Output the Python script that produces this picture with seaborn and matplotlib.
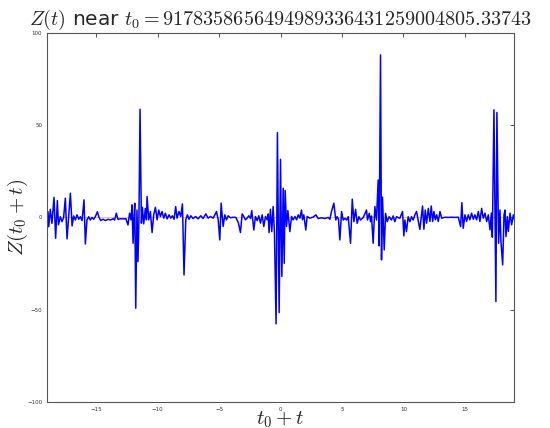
import matplotlib
matplotlib.use("Agg")
import matplotlib.pyplot as plt
import seaborn as sns
import pandas as pd

# values (t offset, Z value)
t_vals = [
    -19.05, -18.92, -18.86, -18.73, -18.6, -18.43, -18.3, -18.16, -18.07, -17.92,
    -17.78, -17.65, -17.51, -17.37, -17.24, -17.1, -16.96, -16.83, -16.69, -16.56,
    -16.42, -16.29, -16.15, -15.99, -15.88, -15.75, -15.61, -15.48, -15.34, -15.2,
    -15.04, -14.9, -14.77, -14.63, -14.44, -14.25, -14.04, -13.82, -13.63, -13.5,
    -13.36, -13.23, -13.01, -12.8, -12.58, -12.41, -12.28, -12.17, -12.08, -12.0,
    -11.92, -11.86, -11.78, -11.68, -11.6, -11.52, -11.43, -11.32, -11.24, -11.13,
    -11.0, -10.91, -10.86, -10.72, -10.59, -10.45, -10.32, -10.18, -10.04, -9.91,
    -9.77, -9.64, -9.5, -9.37, -9.23, -9.07, -8.93, -8.8, -8.66, -8.53,
    -8.42, -8.26, -8.12, -7.98, -7.85, -7.71, -7.58, -7.44, -7.3, -7.11,
    -6.9, -6.71, -6.49, -6.3, -6.08, -5.89, -5.7, -5.48, -5.21, -5.07,
    -4.94, -4.83, -4.67, -4.53, -4.4, -4.26, -4.07, -3.85, -3.63, -3.42,
    -3.26, -3.12, -2.99, -2.85, -2.72, -2.58, -2.44, -2.34, -2.17, -2.04,
    -1.9, -1.77, -1.63, -1.49, -1.36, -1.22, -1.09, -1.0, -0.93, -0.82,
    -0.71, -0.6, -0.49, -0.36, -0.25, -0.11, 0.0, 0.11, 0.22, 0.3,
    0.38, 0.49, 0.6, 0.76, 0.9, 1.03, 1.17, 1.31, 1.44, 1.58,
    1.71, 1.79, 1.9, 2.06, 2.17, 2.39, 2.66, 2.88, 3.07, 3.34,
    3.61, 3.88, 4.02, 4.15, 4.34, 4.5, 4.61, 4.72, 4.83, 4.97,
    5.1, 5.24, 5.38, 5.51, 5.7, 5.84, 5.97, 6.11, 6.24, 6.38,
    6.51, 6.73, 7.0, 7.08, 7.22, 7.33, 7.41, 7.54, 7.68, 7.81,
    7.95, 8.03, 8.14, 8.22, 8.3, 8.44, 8.55, 8.68, 8.84, 9.03,
    9.17, 9.3, 9.44, 9.71, 9.93, 10.04, 10.12, 10.25, 10.39, 10.53,
    10.66, 10.8, 10.93, 11.07, 11.2, 11.34, 11.56, 11.67, 11.78, 11.89,
    12.03, 12.16, 12.27, 12.38, 12.49, 12.6, 12.71, 12.84, 12.98, 13.12,
    13.39, 13.66, 13.93, 14.2, 14.47, 14.66, 14.76, 14.87, 15.01, 15.14,
    15.28, 15.41, 15.55, 15.69, 15.82, 15.96, 16.1, 16.23, 16.37, 16.5,
    16.64, 16.78, 16.91, 17.05, 17.16, 17.24, 17.37, 17.53, 17.61, 17.75,
    17.86, 17.94, 18.08, 18.19, 18.27, 18.35, 18.46, 18.54, 18.68, 18.81,
    18.95, 19.08,
]
z_vals = [
    -1.4, 3.1, -5.0, 4.4, -3.2, 10.9, -11.3, 9.1, -4.0, 0.4,
    -2.3, 0.0, 10.4, -11.6, 0.4, 13.1, -4.6, 0.8, -1.4, 1.4,
    -1.0, 0.4, -1.7, 9.5, -14.4, -1.4, 0.4, -1.4, 0.0, -1.0,
    0.8, 3.1, 0.0, -1.7, -1.0, -1.7, -1.0, -1.4, -0.7, -1.4,
    2.3, -1.0, -0.7, -0.8, -0.7, -4.1, 2.3, -1.3, 6.8, -14.0,
    0.5, 7.7, -49.2, 4.0, -24.0, -1.3, 58.6, -3.1, 5.5, -3.5,
    4.9, -1.3, 11.3, -1.3, 3.2, -8.2, 1.4, 5.5, -1.3, 4.0,
    0.5, 3.2, -0.4, 2.3, -0.8, 1.4, -0.4, 0.9, -1.0, 5.9,
    -0.4, 3.2, 0.5, 7.3, -31.2, -1.3, 1.4, -1.0, 0.9, -0.6,
    0.5, -0.8, 0.9, -0.6, 1.9, -0.4, 0.5, -0.4, 3.2, -1.3,
    -12.2, 7.7, -4.9, 1.4, -1.3, 0.9, -0.2, 0.1, 0.0, -3.1,
    -8.2, 1.9, 0.5, -1.3, -0.4, 0.9, -0.6, 3.7, -6.8, 0.5,
    -1.7, 0.9, -3.1, 1.4, -4.9, 0.5, -1.3, 1.9, -8.2, 4.4,
    -7.7, 5.9, -8.6, -57.7, 46.0, -51.6, 31.5, -32.0, 15.8, -24.9,
    14.6, -4.9, 3.7, -7.7, 0.5, -1.3, 0.5, -1.3, 1.4, -0.4,
    4.0, -1.3, 1.4, -6.8, 0.5, -0.4, 0.2, 1.4, -0.6, -0.2,
    -0.6, 0.0, -1.0, 3.2, 7.7, -1.4, 0.4, -1.0, -12.2, 3.2,
    -1.4, -0.5, -1.4, 0.4, -14.0, 9.9, -2.3, 4.4, -3.2, 0.4,
    -1.4, -0.1, 4.0, -1.4, 2.2, -2.3, 0.8, -14.0, 5.9, -1.4,
    20.3, -15.4, 88.1, -23.0, 11.0, -17.6, 2.2, -2.3, 0.4, -1.4,
    0.8, -2.3, 0.4, -0.5, 3.2, -10.0, -1.4, -7.7, 0.4, -2.3,
    0.4, -1.4, 1.3, 3.2, -1.4, -6.5, 6.2, -6.4, 4.0, -3.1,
    4.9, -2.2, 6.2, -2.2, 3.2, -1.3, 1.4, -2.2, 3.2, -0.4,
    0.1, 0.0, 0.1, 0.0, 0.1, -5.0, 8.0, -5.9, 1.4, -2.2,
    1.4, -1.3, 2.3, -1.0, 1.4, -1.3, 3.2, -2.2, 4.9, -0.4,
    2.3, -2.2, 1.4, -6.7, 2.3, -10.7, 58.3, -45.6, 56.9, -14.0,
    4.0, -13.1, -25.7, 1.4, 4.0, -10.4, 0.5, -7.6, 2.3, -4.0,
    1.4, -2.2,
]

title_str = r"$Z(t)$ near $t_0 = 9178358656494989336431259004805.33743$"

df = pd.DataFrame({"t": t_vals, "z": z_vals})

sns.set_style("white")
plt.rcParams["mathtext.fontset"] = "cm"
plt.rcParams["font.family"] = ["DejaVu Sans"]

fig = plt.figure(figsize=(5.5, 4.28), dpi=100)
ax = fig.add_axes([0.0855, 0.061, 0.849, 0.862])

ax.axhline(0, color="red", lw=0.6, alpha=0.35, zorder=1)
sns.lineplot(data=df, x="t", y="z", color="blue", lw=1.1, ax=ax, zorder=2)

ax.set_xlim(-19, 19)
ax.set_ylim(-100, 100)
ax.set_xticks([-15, -10, -5, 0, 5, 10, 15])
ax.set_yticks([-100, -50, 0, 50, 100])
ax.tick_params(direction="in", labelsize=4, length=3, width=0.6,
               top=True, right=True, colors="#333333")
for s in ax.spines.values():
    s.set_color("#555555")
    s.set_linewidth(0.8)

ax.set_xlabel(r"$t_0+t$", fontsize=15)
ax.set_ylabel(r"$Z(t_0+t)$", fontsize=15)
ax.xaxis.set_label_coords(0.5, -0.02)
ax.yaxis.set_label_coords(-0.036, 0.5)
ax.set_title(title_str, fontsize=14.5, pad=6)

fig.savefig("out.png", dpi=100)
